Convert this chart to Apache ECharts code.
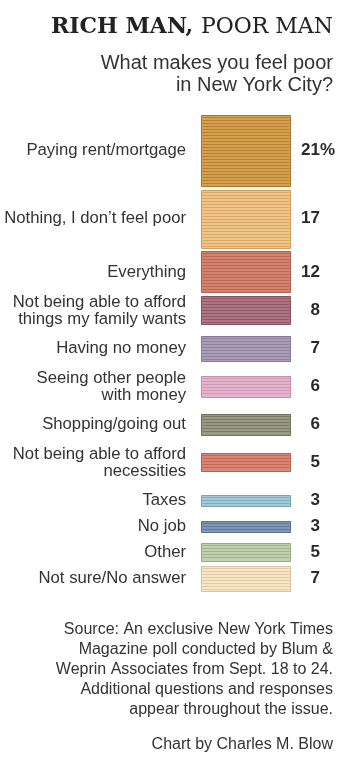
<!DOCTYPE html>
<html>
<head>
<meta charset="utf-8">
<script src="https://cdn.jsdelivr.net/npm/echarts@6/dist/echarts.min.js"></script>
<style>
  html, body { margin: 0; padding: 0; background: #fff; }
  #chart { width: 350px; height: 758px; }
</style>
</head>
<body>
<div id="chart"></div>
<script>
const categories = [
  'Paying rent/mortgage',
  'Nothing, I don\u2019t feel poor',
  'Everything',
  'Not being able to afford\nthings my family wants',
  'Having no money',
  'Seeing other people\nwith money',
  'Shopping/going out',
  'Not being able to afford\nnecessities',
  'Taxes',
  'No job',
  'Other',
  'Not sure/No answer'
]
const values = [21, 17, 12, 8, 7, 6, 6, 5, 3, 3, 5, 7]

// bar fill and stripe colours, one per row
const fills = ['#d6a04c', '#efc487', '#d4826f', '#ae7384', '#ab9cb8', '#e6b3cf', '#9a9a84', '#dc8574', '#a3cad6', '#8197b3', '#bfd1ae', '#f6e4c4']
const strokes = ['#a97730', '#d39e5a', '#b0604f', '#86505f', '#877896', '#c78fae', '#6e6e5a', '#b8604f', '#75a3b3', '#596f8d', '#93aa82', '#d9c39c']

const PX = 3.3      // pixels per percentage point
const BORDER = 1.5
const GAP = 4
const n = values.length
const barPx = v => v * PX + BORDER
const halfText = c => c.includes('\n') ? 25 : 13

// row centres (px from top of first bar), spaced by bar size or label size
const centers = []
categories.forEach((c, i) => {
  if (i === 0) { centers.push(barPx(values[0]) / 2); return }
  const step = Math.max((barPx(values[i - 1]) + barPx(values[i])) / 2 + GAP,
                        halfText(categories[i - 1]) + halfText(c))
  centers.push(centers[i - 1] + step)
})
const extent = centers[n - 1] + barPx(values[n - 1]) / 2

const chart = echarts.init(document.getElementById('chart'))

const textColor = '#2a2a2a'
const sans = 'Liberation Sans, Arial, Helvetica, sans-serif'

const renderItem = (params, api) => {
  const i = api.value(0)
  const left = api.coord([0, api.value(1)])
  const right = api.coord([1, api.value(1)])
  const h = api.size([0, api.value(2)])[1] + BORDER
  const x = Math.round(left[0]) + 0.5
  const w = Math.round(right[0] - left[0])
  const top = Math.round(left[1] - h / 2) + 0.5
  const hh = Math.round(h)
  const children = [{
    type: 'rect',
    shape: { x: x, y: top, width: w, height: hh },
    style: { fill: fills[i], stroke: strokes[i], lineWidth: 1 }
  }]
  for (let y = top + 2; y < top + hh - 1; y += 3) {
    children.push({
      type: 'line',
      shape: { x1: x + 1, y1: y, x2: x + w - 1, y2: y },
      style: { stroke: strokes[i], lineWidth: 1, opacity: 0.75 }
    })
  }
  children.push({
    type: 'text',
    x: left[0] - 15,
    y: left[1],
    style: {
      text: categories[i],
      align: 'right',
      verticalAlign: 'middle',
      fontSize: 16.7,
      lineHeight: 17,
      fontFamily: sans,
      fill: '#333'
    }
  })
  children.push({
    type: 'text',
    x: right[0] + 30,
    y: left[1],
    style: {
      text: String(api.value(2)),
      align: 'right',
      verticalAlign: 'middle',
      fontSize: 17,
      fontWeight: 'bold',
      fontFamily: sans,
      fill: textColor
    }
  })
  if (i === 0) {
    children.push({
      type: 'text',
      x: right[0] + 30,
      y: left[1],
      style: {
        text: '%',
        align: 'left',
        verticalAlign: 'middle',
        fontSize: 17,
        fontWeight: 'bold',
        fontFamily: sans,
        fill: textColor
      }
    })
  }
  return { type: 'group', children: children }
}

const option = {
  backgroundColor: '#fff',
  animation: false,
  graphic: [
    {
      type: 'text',
      x: 333,
      y: 27,
      style: {
        text: '{b|RICH MAN, }{r|POOR MAN}',
        align: 'right',
        verticalAlign: 'middle',
        rich: {
          b: { fontFamily: 'DejaVu Serif', fontWeight: 'bold', fontSize: 22, fill: '#222' },
          r: { fontFamily: 'DejaVu Serif', fontWeight: 'normal', fontSize: 22, fill: '#222' }
        }
      }
    },
    {
      type: 'text',
      x: 333,
      y: 53,
      style: {
        text: 'What makes you feel poor\nin New York City?',
        align: 'right',
        verticalAlign: 'top',
        fontFamily: sans,
        fontSize: 20,
        lineHeight: 21.5,
        fill: '#333'
      }
    },
    {
      type: 'text',
      x: 333,
      y: 620,
      style: {
        text: 'Source: An exclusive New York Times\nMagazine poll conducted by Blum &\nWeprin Associates from Sept. 18 to 24.\nAdditional questions and responses\nappear throughout the issue.',
        align: 'right',
        verticalAlign: 'top',
        fontFamily: sans,
        fontSize: 16,
        lineHeight: 20,
        fill: '#333'
      }
    },
    {
      type: 'text',
      x: 333,
      y: 735,
      style: {
        text: 'Chart by Charles M. Blow',
        align: 'right',
        verticalAlign: 'top',
        fontFamily: sans,
        fontSize: 16,
        lineHeight: 20,
        fill: '#333'
      }
    }
  ],
  grid: { left: 201, right: 60, top: 115, height: extent },
  xAxis: { type: 'value', min: 0, max: 1, show: false },
  yAxis: { type: 'value', min: 0, max: extent / PX, inverse: true, show: false },
  series: [{
    type: 'custom',
    renderItem: renderItem,
    data: values.map((v, i) => [i, centers[i] / PX, v]),
    clip: false
  }]
}

chart.setOption(option)
window.addEventListener('resize', () => chart.resize())
</script>
</body>
</html>
